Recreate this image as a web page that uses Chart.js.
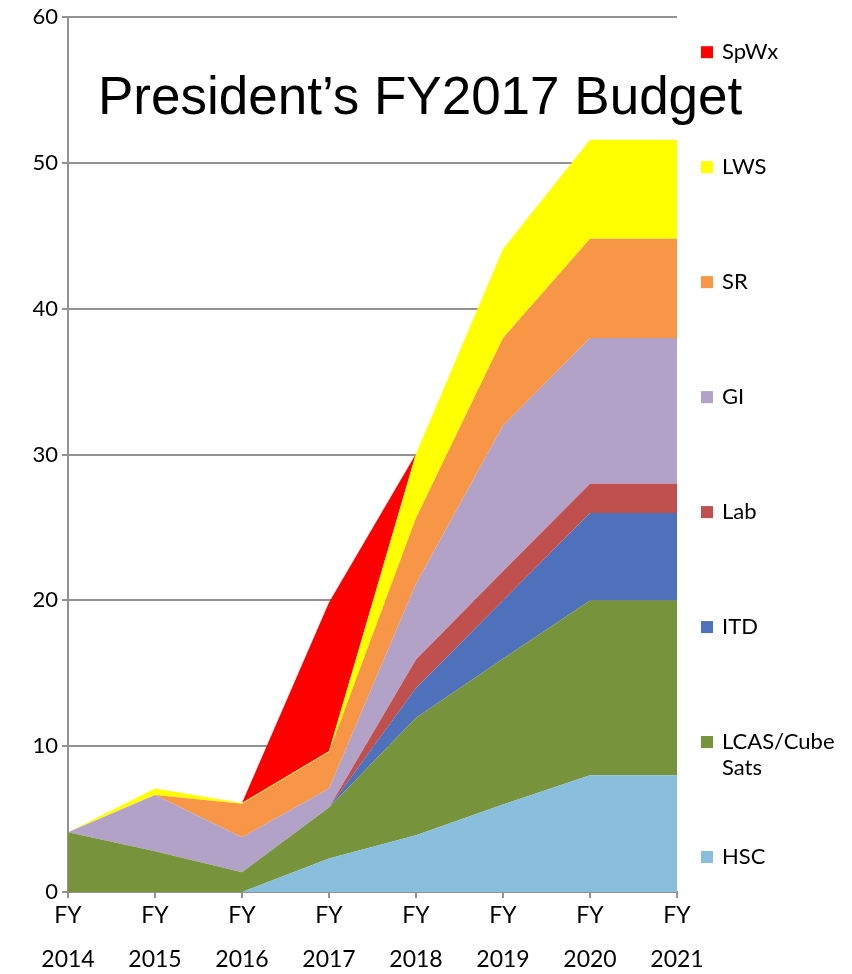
<!DOCTYPE html>
<html>
<head>
<meta charset="utf-8">
<script src="https://cdn.jsdelivr.net/npm/chart.js@4/dist/chart.umd.min.js"></script>
<style>
  body { margin: 0; background: #fff; }
  #wrap { width: 852px; height: 974px; }
</style>
</head>
<body>
<div id="wrap"><canvas id="graficoBudget"></canvas></div>
<script>
// Categories and series, bottom of the stack first
const years = ["2014", "2015", "2016", "2017", "2018", "2019", "2020", "2021"];
const yTicks = [0, 10, 20, 30, 40, 50, 60];

const hsc  = [0, 0, 0, 2.3, 3.9, 6, 8, 8];
const lcas = [4.1, 2.8, 1.35, 3.5, 8.05, 10, 12, 12];
const itd  = [0, 0, 0, 0, 2.05, 4, 6, 6];
const lab  = [0, 0, 0, 0, 1.95, 2, 2, 2];
const gi   = [0, 3.85, 2.4, 1.3, 5.2, 10, 10, 10];
const sr   = [0, 0, 2.3, 2.5, 4.5, 6, 6.8, 6.8];
const lws  = [0, 0.45, 0.05, 0.05, 4.4, 6.1, 6.8, 6.8];
const spwx = [0, 0, 0, 10.2, 0, 0, 0, 0];

const names  = ["HSC", "LCAS/Cube Sats", "ITD", "Lab", "GI", "SR", "LWS", "SpWx"];
const series = [hsc, lcas, itd, lab, gi, sr, lws, spwx];
const colors = ["#89bedd", "#77933c", "#4f71bc", "#c0504d", "#b2a2c7", "#f79646", "#ffff00", "#ff0000"];

const gridColor = "#929292";
const fontFamily = "Lato, 'Open Sans', sans-serif";

// title drawn inside the plot area
const titlePlugin = {
  id: "titleInside",
  afterDraw(chart) {
    const ctx = chart.ctx, a = chart.chartArea;
    ctx.save();
    ctx.font = "53px 'Liberation Sans', Arial, sans-serif";
    ctx.fillStyle = "#000";
    ctx.textBaseline = "alphabetic";
    ctx.textAlign = "left";
    ctx.fillText("President\u2019s FY2017 Budget", a.left + 30, a.top + 97);
    ctx.restore();
  }
};

// legend on the right, top series first, spread over the plot height
const legendPlugin = {
  id: "legendRight",
  afterDraw(chart) {
    const ctx = chart.ctx, a = chart.chartArea;
    const ds = chart.data.datasets.slice().reverse();
    const step = (a.bottom - a.top - 70) / (ds.length - 1);
    const x = a.right + 24;
    const maxW = chart.width - x - 24;
    ctx.save();
    ctx.font = "22px " + fontFamily;
    ctx.textBaseline = "middle";
    ctx.textAlign = "left";
    ds.forEach((d, i) => {
      const y = a.top + 35 + i * step;
      ctx.fillStyle = d.backgroundColor;
      ctx.fillRect(x, y - 6, 12, 12);
      // wrap long labels
      const words = d.label.split(" ");
      const lines = [];
      let cur = "";
      words.forEach(w => {
        const t = cur ? cur + " " + w : w;
        if (cur && ctx.measureText(t).width > maxW) { lines.push(cur); cur = w; }
        else cur = t;
      });
      lines.push(cur);
      ctx.fillStyle = "#000";
      lines.forEach((l, j) => ctx.fillText(l, x + 21, y + j * 26));
    });
    ctx.restore();
  }
};

new Chart(document.getElementById("graficoBudget"), {
  type: "line",
  data: {
    labels: years.map(y => ["FY", y]),
    datasets: series.map((s, i) => ({
      label: names[i],
      data: s,
      backgroundColor: colors[i],
      borderColor: "rgba(0,0,0,0)",
      borderWidth: 0,
      pointRadius: 0,
      tension: 0,
      fill: i === 0 ? "origin" : "-1"
    }))
  },
  options: {
    responsive: true,
    maintainAspectRatio: false,
    animation: false,
    layout: { padding: { top: 15, right: 175, left: 0, bottom: 0 } },
    plugins: {
      legend: { display: false },
      tooltip: { enabled: false }
    },
    scales: {
      x: {
        offset: false,
        grid: { drawOnChartArea: false, drawTicks: true, tickLength: 6, color: gridColor, lineWidth: 2 },
        border: { display: true, color: gridColor, width: 2 },
        ticks: {
          color: "#000",
          padding: -4,
          maxRotation: 0,
          autoSkip: false,
          font: { family: fontFamily, size: 23, lineHeight: "44px" }
        },
        afterFit(scale) { scale.height = 82; }
      },
      y: {
        stacked: true,
        min: 0,
        max: 60,
        afterBuildTicks(scale) { scale.ticks = yTicks.map(v => ({ value: v })); },
        grid: { color: gridColor, lineWidth: 2, drawTicks: true, tickLength: 6 },
        border: { display: true, color: gridColor, width: 2 },
        ticks: {
          color: "#000",
          padding: 4,
          font: { family: fontFamily, size: 22 }
        },
        afterFit(scale) { scale.width = 68; }
      }
    }
  },
  plugins: [titlePlugin, legendPlugin]
});
</script>
</body>
</html>
